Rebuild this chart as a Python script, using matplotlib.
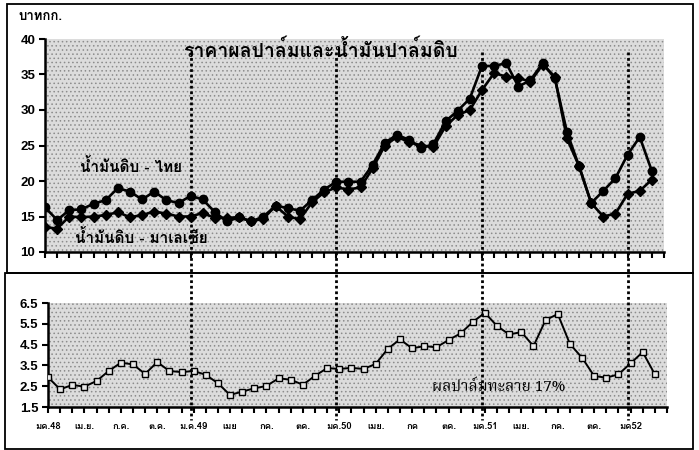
import numpy as np
import matplotlib
matplotlib.use("Agg")
import matplotlib.pyplot as plt
from matplotlib import font_manager
from matplotlib.ft2font import FT2Font
from matplotlib.patches import Rectangle
from matplotlib.lines import Line2D

# monthly data, Jan 2005 (มค.48) .. Mar 2009
thai_oil = [16.3, 14.5, 15.9, 16.0, 16.8, 17.3, 19.0, 18.5, 17.4, 18.5, 17.3, 16.9,
            17.9, 17.4, 15.6, 14.3, 14.9, 14.3, 15.0, 16.5, 16.2, 15.8, 17.3, 18.8,
            19.9, 19.9, 19.9, 22.3, 25.4, 26.5, 25.8, 24.6, 25.2, 28.4, 29.9, 31.6,
            36.2, 36.2, 36.6, 33.3, 34.2, 36.6, 34.5, 26.9, 22.1, 16.9, 18.6, 20.4,
            23.7, 26.2, 21.4]
malay_oil = [13.5, 13.3, 15.0, 14.9, 15.0, 15.2, 15.6, 14.9, 15.2, 15.7, 15.4, 15.0,
             15.0, 15.5, 14.8, 14.8, 14.9, 14.3, 14.7, 16.5, 15.0, 14.6, 17.0, 18.4,
             19.1, 18.8, 19.1, 21.8, 25.0, 26.2, 25.5, 25.0, 24.8, 27.7, 29.3, 30.0,
             32.8, 35.2, 34.7, 34.5, 34.0, 36.4, 34.7, 26.0, 22.1, 16.9, 15.0, 15.4,
             18.2, 18.6, 20.2]
ffb = [2.93, 2.35, 2.56, 2.48, 2.75, 3.23, 3.63, 3.55, 3.09, 3.66, 3.23, 3.18,
       3.23, 3.05, 2.64, 2.08, 2.24, 2.40, 2.51, 2.88, 2.81, 2.57, 3.00, 3.37,
       3.33, 3.38, 3.33, 3.57, 4.30, 4.75, 4.32, 4.43, 4.37, 4.72, 5.04, 5.59,
       6.03, 5.39, 4.99, 5.10, 4.43, 5.68, 5.97, 4.53, 3.87, 2.99, 2.91, 3.07,
       3.60, 4.14, 3.07]
month_labels = ["มค.48", "เม.ย.", "ก.ค.", "ต.ค.", "ม.ค.49", "เมย", "กค.", "ตค.",
                "มค.50", "เมย.", "กค", "ตค.", "มค.51", "เมย.", "กค.", "ตค.", "มค52"]

# fonts that can draw Thai
thai_fonts = set()
for f in font_manager.fontManager.ttflist:
    try:
        if FT2Font(f.fname).get_char_index(ord("ก")):
            thai_fonts.add(f.name)
    except Exception:
        pass

def pick(*names):
    for n in names:
        if n in thai_fonts:
            return [n, "Liberation Sans", "DejaVu Sans"]
    return sorted(thai_fonts)[:1] + ["Liberation Sans", "DejaVu Sans"]

sans_th = pick("Loma", "Noto Sans Thai Looped", "Noto Sans Thai")
serif_th = pick("Noto Serif Thai", "Norasi", "Kinnari", "Loma")
plt.rcParams["font.family"] = sans_th
plt.rcParams["hatch.linewidth"] = 0.6

W, H = 699, 450
fig = plt.figure(figsize=(W / 100, H / 100), dpi=100)

def fx(px):
    return px / W

def fy(py):
    return 1 - py / H

x = np.arange(len(thai_oil))

def shade(ax):
    ax.set_facecolor("#dcdcdc")
    ax.add_patch(Rectangle((0, 0), 1, 1, transform=ax.transAxes, facecolor="none",
                           edgecolor="#8c8c8c", hatch="....", lw=0, zorder=0))

num_font = ["Liberation Sans", "DejaVu Sans"]

# top chart
ax1 = fig.add_axes([fx(45), fy(252), fx(664) - fx(45), fy(39) - fy(252)])
shade(ax1)
ax1.plot(x, thai_oil, color="black", lw=1.9, marker="o", ms=6, zorder=3)
ax1.plot(x, malay_oil, color="black", lw=1.9, marker="D", ms=5.5, zorder=3)
ax1.set_xlim(0, 51)
ax1.set_ylim(10, 40)
ax1.set_yticks([10, 15, 20, 25, 30, 35, 40])
ax1.set_xticks(np.arange(0, 52))
ax1.set_xticklabels([])
ax1.tick_params(axis="both", direction="out", length=4, width=1.5)
ax1.tick_params(axis="y", labelsize=9.5, pad=3)
for s in ["top", "right"]:
    ax1.spines[s].set_visible(False)
for s in ["left", "bottom"]:
    ax1.spines[s].set_linewidth(1.8)
for t in ax1.get_yticklabels():
    t.set_fontweight("bold")
    t.set_family(num_font)
ax1.text(2.9, 22.1, "น้ำมันดิบ - ไทย", fontsize=11, fontweight="bold", va="center")
ax1.text(2.5, 12.0, "น้ำมันดิบ - มาเลเซีย", fontsize=11, fontweight="bold", va="center")

# bottom chart
ax2 = fig.add_axes([fx(48), fy(407), fx(667) - fx(48), fy(303) - fy(407)])
shade(ax2)
ax2.plot(x, ffb, color="black", lw=1.4, marker="s", ms=4.5, mfc="#e8e8e8", mec="black",
         mew=1, zorder=3)
ax2.set_xlim(0, 51)
ax2.set_ylim(1.5, 6.5)
ax2.set_yticks([1.5, 2.5, 3.5, 4.5, 5.5, 6.5])
ax2.set_yticklabels(["1.5", "2.5", "3.5", "4.5", "5.5", "6.5"])
ax2.set_xticks(np.arange(0, 52), minor=True)
ax2.set_xticks(np.arange(0, 49, 3))
ax2.set_xticklabels(month_labels, fontsize=6.8, fontweight="bold")
ax2.tick_params(axis="both", which="both", direction="out", length=4, width=1.5)
ax2.tick_params(axis="x", pad=7)
ax2.tick_params(axis="y", labelsize=9.5, pad=3)
for s in ["top", "right"]:
    ax2.spines[s].set_visible(False)
for s in ["left", "bottom"]:
    ax2.spines[s].set_linewidth(1.8)
for t in ax2.get_yticklabels():
    t.set_fontweight("bold")
    t.set_family(num_font)
ax2.text(37.1, 2.45, "ผลปาล์มทะลาย 17%", fontsize=11, fontweight="bold", va="center",
         ha="center", family=serif_th)

# frames round the two charts
fig.add_artist(Rectangle((fx(7), fy(273)), fx(693) - fx(7), fy(4) - fy(273),
                         transform=fig.transFigure, fill=False, lw=1.3, ec="black"))
fig.add_artist(Rectangle((fx(5), fy(449)), fx(693) - fx(5), fy(273) - fy(449),
                         transform=fig.transFigure, fill=False, lw=1.3, ec="black"))

# dotted year markers
inv = fig.transFigure.inverted()
for i in [12, 24, 36, 48]:
    xf = inv.transform(ax1.transData.transform((i, 10)))[0]
    fig.add_artist(Line2D([xf, xf], [fy(52), fy(420)], transform=fig.transFigure,
                          color="black", lw=2, ls=(0, (1, 1)), zorder=5))

fig.text(fx(320), fy(50), "ราคาผลปาล์มและน้ำมันปาล์มดิบ", fontsize=14, fontweight="bold",
         ha="center", va="center")
fig.text(fx(18), fy(17), "บาทกก.", fontsize=9.5, fontweight="bold", ha="left", va="center")

fig.savefig("out.png", dpi=100)
